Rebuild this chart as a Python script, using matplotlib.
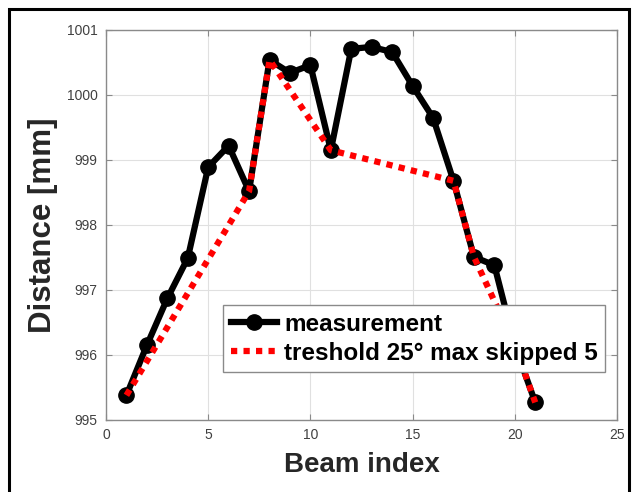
import matplotlib
matplotlib.use("Agg")
import matplotlib.pyplot as plt
from matplotlib.patches import Rectangle

beam_index = list(range(1, 22))
measurement = [995.38, 996.15, 996.87, 997.49, 998.89, 999.22, 998.52, 1000.54,
               1000.34, 1000.46, 999.15, 1000.71, 1000.74, 1000.66, 1000.14,
               999.65, 998.68, 997.51, 997.38, 996.15, 995.27]
kept_index = [1, 7, 8, 11, 17, 18, 20, 21]
kept_values = [measurement[i - 1] for i in kept_index]

xticks = [0, 5, 10, 15, 20, 25]
yticks = [995, 996, 997, 998, 999, 1000, 1001]

plt.rcParams['font.family'] = ['Liberation Sans', 'DejaVu Sans']

fig = plt.figure(figsize=(6.37, 4.92), dpi=100)
ax = fig.add_axes([106/637, 72/492, 511/637, 390/492])

ax.plot(beam_index, measurement, color='black', lw=4.5, marker='o', ms=11,
        label='measurement', zorder=3)
ax.plot(kept_index, kept_values, color='#ff0000', lw=4.5, ls=(0, (1, 1)),
        label='treshold 25° max skipped 5', zorder=4)

ax.set_xlim(0, 25)
ax.set_ylim(995, 1001)
ax.set_xticks(xticks)
ax.set_yticks(yticks)
ax.grid(True, color='#e0e0e0', lw=0.8)
ax.set_axisbelow(True)
for s in ax.spines.values():
    s.set_color('#8a8a8a')
    s.set_linewidth(1.0)
ax.tick_params(direction='in', top=True, right=True, length=4, color='#8a8a8a',
               labelsize=10, labelcolor='#404040', pad=6)
ax.set_xlabel('Beam index', fontsize=20, fontweight='bold', color='#262626', labelpad=7)
ax.set_ylabel('Distance [mm]', fontsize=22.5, fontweight='bold', color='#262626', labelpad=6)

leg = ax.legend(loc='lower right', bbox_to_anchor=(0.977, 0.123),
                prop={'weight': 'bold', 'size': 17.5}, fancybox=False, framealpha=1,
                edgecolor='#8a8a8a', handlelength=1.9, borderpad=0.3,
                labelspacing=0.25, handletextpad=0.3, borderaxespad=0)
leg.get_frame().set_linewidth(1.0)

fig.patches.append(Rectangle((9/637, -0.02), 620/637, 1.02 - 9/492, transform=fig.transFigure,
                             fill=False, edgecolor='black', lw=2.2))

fig.savefig('out.png', dpi=100)
